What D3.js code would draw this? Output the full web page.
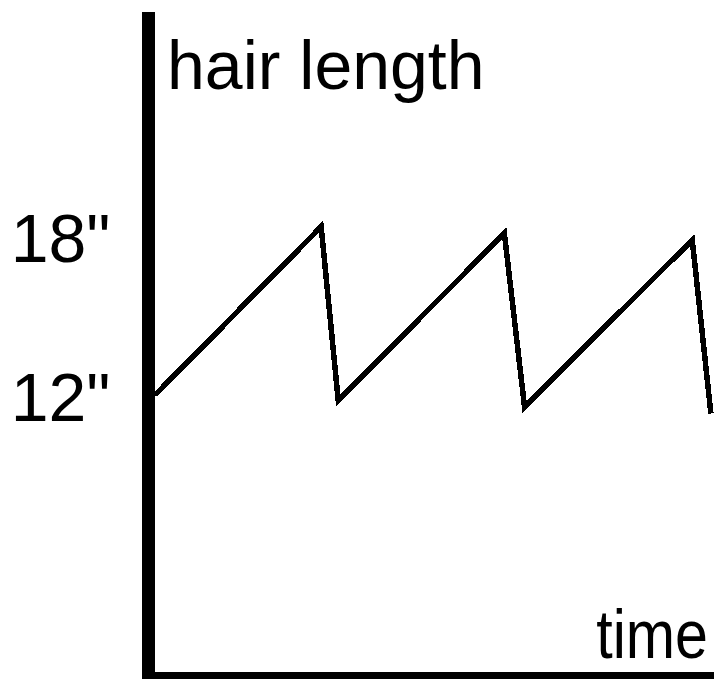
<!DOCTYPE html>
<html>
<head>
<meta charset="utf-8">
<script src="https://cdn.jsdelivr.net/npm/d3@7"></script>
<style>
  body { margin: 0; background: #fff; }
  text { font-family: "Liberation Sans", Arial, sans-serif; fill: #000; }
</style>
</head>
<body>
<div id="chart"></div>
<script>

// hair length over time (inches vs months)
const months = [0, 5.35, 5.9, 11.25, 11.9, 17.3, 17.9];
const hairLength = [12.05, 18.4, 11.85, 18.15, 11.6, 17.9, 11.35];
const yTicks = [12, 18];
const yTitle = "hair length";
const xTitle = "time";

const width = 714;
const height = 679;
const margin = {left: 155, right: 0, bottom: 7, top: 12};

const svg = d3
  .select("#chart")
  .append("svg")
  .attr("width", width)
  .attr("height", height);

// scales
let xScale = d3.scaleLinear()
  .domain([0, 18])
  .range([margin.left, width - margin.right]);

let yScale = d3.scaleLinear()
  .domain([1.6, 26.5])
  .range([height - margin.bottom, margin.top]);

// tick labels only, no tick marks
svg.append("g")
  .attr("transform", `translate(${margin.left - 6.5}, 0)`)
  .call(d3.axisLeft(yScale)
    .tickValues(yTicks)
    .tickSize(0)
    .tickPadding(38)
    .tickFormat(d => d + '"'))
  .call(g => g.select(".domain").remove())
  .selectAll("text")
    .attr("font-size", "68px")
    .attr("font-family", "Liberation Sans, Arial, sans-serif")
    .attr("dy", "0.36em")
    .attr("fill", "#000");

// the line
const line = d3.line()
  .x((d, i) => xScale(months[i]))
  .y(d => yScale(d));

svg.append("path")
  .datum(hairLength)
  .attr("fill", "none")
  .attr("stroke", "#000")
  .attr("stroke-width", 5.5)
  .attr("stroke-linejoin", "miter")
  .attr("shape-rendering", "crispEdges")
  .attr("d", line);

// thick L-shaped axes
const ax = xScale.range()[0] - 6.5;
const ay = yScale.range()[0] + 6.5;
svg.append("path")
  .attr("fill", "none")
  .attr("stroke", "#000")
  .attr("stroke-width", 13)
  .attr("stroke-linejoin", "miter")
  .attr("d", `M${ax},${yScale.range()[1]}V${ay}H${xScale.range()[1]}`);

// axis titles
svg.append("text")
  .attr("x", 167)
  .attr("y", 89)
  .attr("font-size", "68px")
  .text(yTitle);

// narrower glyphs for "time", like the reference
svg.append("text")
  .attr("transform", "translate(708,658) scale(0.87,1)")
  .attr("text-anchor", "end")
  .attr("font-size", "68px")
  .text(xTitle);

</script>
</body>
</html>
